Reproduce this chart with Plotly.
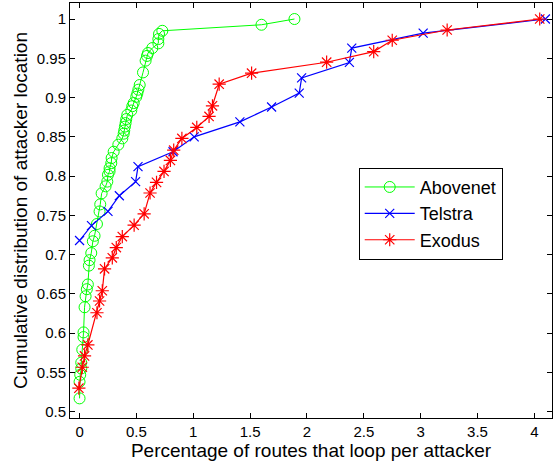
import plotly.graph_objects as go

# Abovenet: share of routes that loop (x, %) vs. cumulative fraction of attacker locations (y)
abovenet_x = [0.0, 0.0, 0.006, 0.015, 0.015, 0.024, 0.035, 0.035, 0.044, 0.053, 0.064,
              0.073, 0.082, 0.088, 0.103, 0.117, 0.132, 0.153, 0.176, 0.182, 0.194,
              0.229, 0.244, 0.250, 0.264, 0.264, 0.279, 0.282, 0.300, 0.341, 0.376,
              0.388, 0.393, 0.399, 0.405, 0.411, 0.420, 0.455, 0.464, 0.476, 0.499,
              0.508, 0.517, 0.529, 0.558, 0.581, 0.593, 0.602, 0.640, 0.693, 0.693,
              0.699, 0.728, 1.60, 1.89]
abovenet_y = [0.517, 0.538, 0.547, 0.555, 0.5625, 0.579, 0.595, 0.601, 0.633, 0.647, 0.656,
              0.662, 0.686, 0.693, 0.702, 0.717, 0.724, 0.739, 0.755, 0.764, 0.778,
              0.787, 0.793, 0.8016, 0.806, 0.810, 0.8165, 0.823, 0.831, 0.840, 0.848,
              0.854, 0.858, 0.863, 0.8675, 0.8726, 0.878, 0.8835, 0.889, 0.893, 0.901,
              0.905, 0.910, 0.916, 0.932, 0.947, 0.953, 0.9567, 0.963, 0.969, 0.9745,
              0.981, 0.985, 0.9927, 1.0]

# Telstra
telstra_x = [0.0, 0.105, 0.250, 0.350, 0.493, 0.514, 0.822, 1.008, 1.410, 1.689,
             1.932, 1.953, 2.373, 2.394, 3.022, 4.097]
telstra_y = [0.718, 0.737, 0.755, 0.775, 0.793, 0.812, 0.831, 0.850, 0.869, 0.888,
             0.9057, 0.925, 0.9447, 0.963, 0.982, 1.0]

# Exodus
exodus_x = [-0.006, 0.024, 0.044, 0.073, 0.153, 0.176, 0.200, 0.220, 0.288, 0.323,
            0.376, 0.480, 0.568, 0.620, 0.677, 0.743, 0.799, 0.828, 0.900, 1.031,
            1.139, 1.169, 1.228, 1.513, 2.173, 2.587, 2.750, 3.233, 4.047]
exodus_y = [0.530, 0.5566, 0.571, 0.585, 0.626, 0.641, 0.654, 0.682, 0.696, 0.709,
            0.723, 0.7375, 0.752, 0.7785, 0.792, 0.806, 0.820, 0.833, 0.848, 0.862,
            0.876, 0.8895, 0.917, 0.931, 0.945, 0.9585, 0.973, 0.986, 1.0]

x_ticks = [0, 0.5, 1, 1.5, 2, 2.5, 3, 3.5, 4]
x_tick_text = ["0", "0.5", "1", "1.5", "2", "2.5", "3", "3.5", "4"]
y_ticks = [0.5, 0.55, 0.6, 0.65, 0.7, 0.75, 0.8, 0.85, 0.9, 0.95, 1.0]
y_tick_text = ["0.5", "0.55", "0.6", "0.65", "0.7", "0.75", "0.8", "0.85", "0.9", "0.95", "1"]

FONT = "Liberation Sans, Arial, Helvetica, sans-serif"

fig = go.Figure()
fig.add_trace(go.Scatter(
    x=abovenet_x, y=abovenet_y, name="Abovenet", mode="lines+markers",
    line=dict(color="#00ff00", width=1),
    marker=dict(symbol="circle-open", size=11, color="#00ff00", line=dict(width=1)),
))
fig.add_trace(go.Scatter(
    x=telstra_x, y=telstra_y, name="Telstra", mode="lines+markers",
    line=dict(color="#0000ff", width=1.2),
    marker=dict(symbol="x-thin-open", size=9, color="#0000ff", line=dict(width=1.2, color="#0000ff")),
))
fig.add_trace(go.Scatter(
    x=exodus_x, y=exodus_y, name="Exodus", mode="lines+markers",
    line=dict(color="#ff0000", width=1.2),
    marker=dict(symbol="asterisk-open", size=11, color="#ff0000", line=dict(width=1.2, color="#ff0000")),
))

axis_common = dict(
    showline=True, linecolor="black", linewidth=1, mirror="ticks",
    ticks="inside", ticklen=5, tickcolor="black", tickwidth=1,
    showgrid=False, zeroline=False,
    tickfont=dict(family=FONT, size=15, color="black"),
)

fig.update_layout(
    width=553, height=465,
    margin=dict(l=70, r=1, t=3, b=47),
    paper_bgcolor="white", plot_bgcolor="white",
    font=dict(family=FONT, color="black"),
    xaxis=dict(range=[-0.084, 4.155], tickvals=x_ticks, ticktext=x_tick_text,
               title=dict(text="Percentage of routes that loop per attacker",
                          font=dict(family=FONT, size=19), standoff=3),
               **axis_common),
    yaxis=dict(range=[0.492, 1.0204], tickvals=y_ticks, ticktext=y_tick_text,
               title=dict(text="Cumulative distribution of attacker location",
                          font=dict(family=FONT, size=19), standoff=4),
               **axis_common),
    legend=dict(x=0.599, y=0.603, xanchor="left", yanchor="top",
                bordercolor="black", borderwidth=1, bgcolor="white",
                itemwidth=50,
                font=dict(family=FONT, size=18, color="black")),
)

fig.write_html("out.html")
